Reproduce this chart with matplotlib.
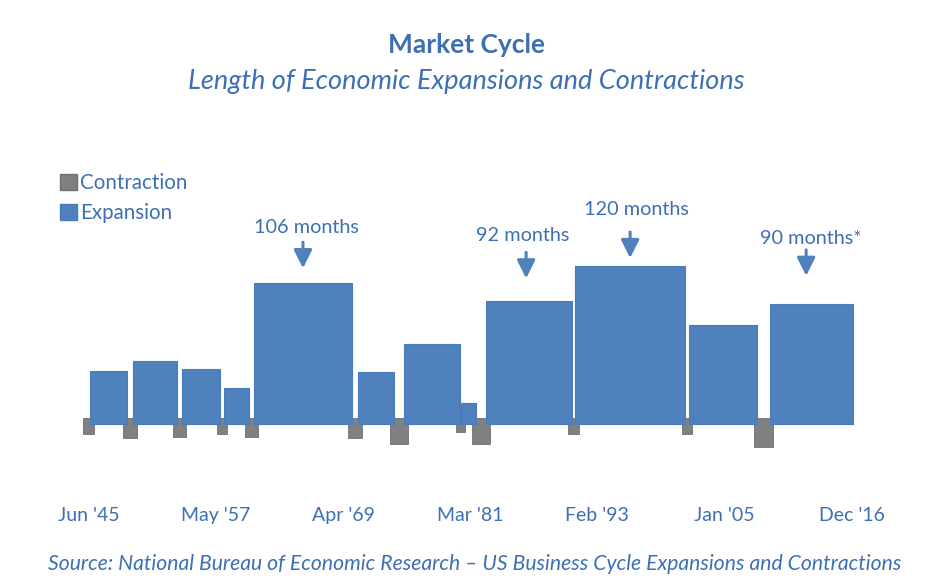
import matplotlib
matplotlib.use("Agg")
import matplotlib.pyplot as plt
from matplotlib.patches import Patch

plt.rcParams['font.family'] = ['Lato', 'DejaVu Sans']

# NBER business cycle phases since 1945 (start month, length in months)
contraction_start = ['1945-02', '1948-11', '1953-07', '1957-08', '1960-04', '1969-12',
                     '1973-11', '1980-01', '1981-07', '1990-07', '2001-03', '2007-12']
contraction_months = [8, 11, 10, 8, 10, 11, 16, 6, 16, 8, 8, 18]

expansion_start = ['1945-10', '1949-10', '1954-05', '1958-04', '1961-02', '1970-11',
                   '1975-03', '1980-07', '1982-11', '1991-03', '2001-11', '2009-06']
expansion_months = [37, 45, 39, 24, 106, 36, 58, 12, 92, 120, 73, 90]

tick_dates = ['1945-06', '1957-05', '1969-04', '1981-03', '1993-02', '2005-01', '2016-12']
tick_labels = ["Jun '45", "May '57", "Apr '69", "Mar '81", "Feb '93", "Jan '05", "Dec '16"]

# which expansions get a callout
callout_idx = [4, 8, 9, 11]
callout_text = ['106 months', '92 months', '120 months', '90 months*']

BLUE = '#4F81BD'
GRAY = '#808080'
TEXT = '#3D6FB4'
W, H = 933, 583


def month_index(s):
    y, m = s.split('-')
    return (int(y) - 1945) * 12 + int(m) - 1


def fx(px):
    return px / W


def fy(py):
    return 1 - py / H


fig = plt.figure(figsize=(W / 100, H / 100), dpi=100)
# axes spans the full width; limits chosen so 1 month ~ 0.889 px wide, 1.27 px tall
ax = fig.add_axes([0, fy(490), 1, (490 - 150) / H])
ax.set_xlim(-94.8, 954.7)
ax.set_ylim(-54.3, 213.4)

padx, pady = 2.1, 2.3

c_x = [month_index(s) for s in contraction_start]
ax.bar([x - padx for x in c_x], [-(m + 2 * pady) for m in contraction_months],
       width=[m + 2 * padx for m in contraction_months], bottom=pady, align='edge',
       color=GRAY, edgecolor='#707070', linewidth=0.6, zorder=1)

e_x = [month_index(s) for s in expansion_start]
ax.bar([x - padx for x in e_x], [m + 2 * pady for m in expansion_months],
       width=[m + 2 * padx for m in expansion_months], bottom=-pady, align='edge',
       color=BLUE, edgecolor='#4A7CBA', linewidth=0.8, zorder=2)

# callouts: text and arrow above selected bars
tip_gap = [12, 18, 6, 22]       # months between arrow tip and bar top
arrow_shift = [0, -3, 0, -6]    # months, nudge arrow off bar centre
arrow_len = 20.5
text_dx = [3, -3.5, 6.3, 4.8]   # px shift of label vs arrow
text_dy = [9.4, 11, 16.7, 6]    # px gap between label baseline and arrow tail
for k, i in enumerate(callout_idx):
    cx = e_x[i] + expansion_months[i] / 2 + arrow_shift[k]
    tip = expansion_months[i] + pady + tip_gap[k]
    ax.annotate('', xy=(cx, tip), xytext=(cx, tip + arrow_len),
                arrowprops=dict(arrowstyle='-|>,head_width=0.55,head_length=1.1',
                                color=BLUE, lw=2.2, shrinkA=0, shrinkB=0))
    ax.annotate(callout_text[k], xy=(cx, tip + arrow_len),
                xytext=(text_dx[k] / 1.389, text_dy[k] / 1.389),
                textcoords='offset points', ha='center', va='baseline',
                fontsize=14.3, color=TEXT)

ax.set_xticks([month_index(s) for s in tick_dates])
ax.set_xticklabels(tick_labels, fontsize=14, color=TEXT)
ax.tick_params(axis='x', length=0, pad=12)
ax.set_yticks([])
for sp in ax.spines.values():
    sp.set_visible(False)

handles = [Patch(facecolor=GRAY, edgecolor='#707070', label='Contraction'),
           Patch(facecolor=BLUE, edgecolor='#4A7CBA', label='Expansion')]
ax.legend(handles=handles, loc='upper left', bbox_to_anchor=(fx(60), fy(173)),
          bbox_transform=fig.transFigure, frameon=False, fontsize=14.8,
          handlelength=0.82, handleheight=0.82, handletextpad=0.15,
          labelspacing=0.48, borderpad=0, borderaxespad=0, labelcolor=TEXT)

fig.text(fx(466), fy(53), 'Market Cycle', ha='center', va='baseline',
         fontsize=19, fontweight='bold', color=TEXT)
fig.text(fx(466), fy(89), 'Length of Economic Expansions and Contractions',
         ha='center', va='baseline', fontsize=19.5, style='italic', color=TEXT)
fig.text(fx(475), fy(570),
         'Source: National Bureau of Economic Research \u2013 US Business Cycle Expansions and Contractions',
         ha='center', va='baseline', fontsize=15.2, style='italic', color=TEXT)

fig.savefig('out.png', dpi=100)
